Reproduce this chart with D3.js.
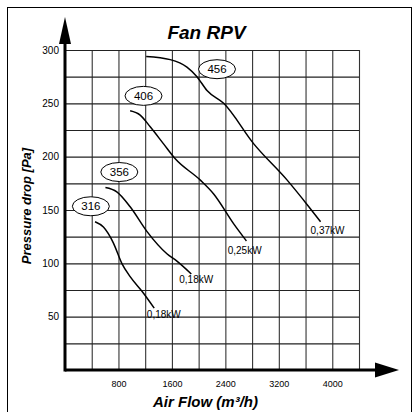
<!DOCTYPE html>
<html><head><meta charset="utf-8">
<script src="https://cdn.jsdelivr.net/npm/d3@7"></script>
<style>
html,body{margin:0;padding:0;background:#fff;}
svg{display:block;font-family:"Liberation Sans",Arial,sans-serif;}
</style></head>
<body>
<svg id="chart" width="414" height="412"></svg>
<script>
// ---- data ----
const title = "Fan RPV";
const xTitle = "Air Flow (m³/h)";
const yTitle = "Pressure drop [Pa]";
const xTicks = [800, 1600, 2400, 3200, 4000];
const yTicks = [50, 100, 150, 200, 250, 300];
const fanNames = ["316", "356", "406", "456"];
const fanPowers = ["0,18kW", "0,18kW", "0,25kW", "0,37kW"];
const curve316 = [[450,139],[575,134],[725,119],[850,100],[975,87.5],[1175,72],[1335,58]];
const curve356 = [[605,171],[775,167],[975,153],[1225,130],[1525,109],[1675,102],[1890,90]];
const curve406 = [[975,243],[1125,239],[1275,228],[1475,212],[1650,198],[2025,178],[2225,165],[2525,137],[2715,121]];
const curve456 = [[1215,294],[1575,291],[1825,284],[1975,275],[2125,262],[2375,250],[2825,212],[3325,178],[3625,155],[3825,139]];
const nameAnchors = [[387,153.5],[813,185.6],[1175,257],[2275,282]];
const powerAnchors = [[1225,52.5],[1710,85],[2435,111.8],[3675,130.6]];

const curves = [curve316, curve356, curve406, curve456];

const svg = d3.select("#chart");
const x = d3.scaleLinear().domain([0, 4400]).range([65, 359]);
const y = d3.scaleLinear().domain([0, 300]).range([370, 50]);

// outer frame
svg.append("rect").attr("x", 7.5).attr("y", 7.5).attr("width", 404).attr("height", 420)
  .attr("fill", "none").attr("stroke", "#000").attr("stroke-width", 1);

// grid
const gridG = svg.append("g");
gridG.append("g").attr("transform", `translate(0,${y(0)})`)
  .call(d3.axisBottom(x).tickValues(d3.range(400, 4401, 400)).tickSize(-(y(0) - y(300))).tickFormat(""))
  .call(g => g.select(".domain").remove())
  .call(g => g.selectAll("line").attr("stroke", "#333").attr("stroke-width", 1.1));
gridG.append("g").attr("transform", `translate(${x(0)},0)`)
  .call(d3.axisLeft(y).tickValues(d3.range(25, 301, 25)).tickSize(-(x(4400) - x(0))).tickFormat(""))
  .call(g => g.select(".domain").remove())
  .call(g => g.selectAll("line").attr("stroke", "#222").attr("stroke-width", 1.1));

// tick labels
svg.append("g").attr("transform", `translate(0,${y(0) + 11})`)
  .call(d3.axisBottom(x).tickValues(xTicks).tickSize(0).tickPadding(0).tickFormat(d3.format("d")))
  .call(g => g.select(".domain").remove())
  .call(g => g.selectAll("text").attr("font-size", 9).attr("font-family", "Liberation Sans, Arial, sans-serif").attr("fill", "#000"));
svg.append("g").attr("transform", `translate(${x(0) - 6},0)`)
  .call(d3.axisLeft(y).tickValues(yTicks).tickSize(0).tickPadding(0).tickFormat(d3.format("d")))
  .call(g => g.select(".domain").remove())
  .call(g => g.selectAll("text").attr("font-size", 10).attr("font-family", "Liberation Sans, Arial, sans-serif").attr("fill", "#000"));

// main axes with arrows
svg.append("line").attr("x1", x(0)).attr("x2", 377).attr("y1", y(0)).attr("y2", y(0))
  .attr("stroke", "#000").attr("stroke-width", 3);
svg.append("line").attr("x1", x(0)).attr("x2", x(0)).attr("y1", y(0) + 1.5).attr("y2", 42)
  .attr("stroke", "#000").attr("stroke-width", 3);
svg.append("path").attr("d", `M375,${y(0) - 7.5}L399,${y(0)}L375,${y(0) + 7.5}Z`).attr("fill", "#000");
svg.append("path").attr("d", `M${x(0) - 6},44L${x(0)},17L${x(0) + 6},44Z`).attr("fill", "#000");

// curves
const line = d3.line().x(d => x(d[0])).y(d => y(d[1])).curve(d3.curveMonotoneX);
svg.append("g").selectAll("path").data(curves).join("path")
  .attr("d", line).attr("fill", "none").attr("stroke", "#000").attr("stroke-width", 1.5);

// fan name ellipses
const nameG = svg.append("g").selectAll("g").data(fanNames).join("g")
  .attr("transform", (d, i) => `translate(${x(nameAnchors[i][0])},${y(nameAnchors[i][1])})`);
nameG.append("ellipse").attr("rx", 18.5).attr("ry", 9.5).attr("fill", "#fff").attr("stroke", "#000").attr("stroke-width", 1);
nameG.append("text").text(d => d).attr("text-anchor", "middle").attr("dy", "0.36em")
  .attr("font-size", 11.5).attr("fill", "#000");

// power labels
svg.append("g").selectAll("text").data(fanPowers).join("text")
  .attr("x", (d, i) => x(powerAnchors[i][0])).attr("y", (d, i) => y(powerAnchors[i][1]))
  .attr("dy", "0.36em").attr("font-size", 10).attr("fill", "#000").text(d => d);

// titles
svg.append("text").attr("x", 206.5).attr("y", 38.5).attr("text-anchor", "middle")
  .attr("font-size", 19).attr("font-weight", "bold").attr("font-style", "italic").text(title);
svg.append("text").attr("x", 205.5).attr("y", 406.5).attr("text-anchor", "middle")
  .attr("font-size", 15).attr("font-weight", "bold").attr("font-style", "italic").text(xTitle);
svg.append("text").attr("transform", "translate(31,206) rotate(-90)").attr("text-anchor", "middle")
  .attr("font-size", 13).attr("font-weight", "bold").attr("font-style", "italic").text(yTitle);
</script>
</body></html>
